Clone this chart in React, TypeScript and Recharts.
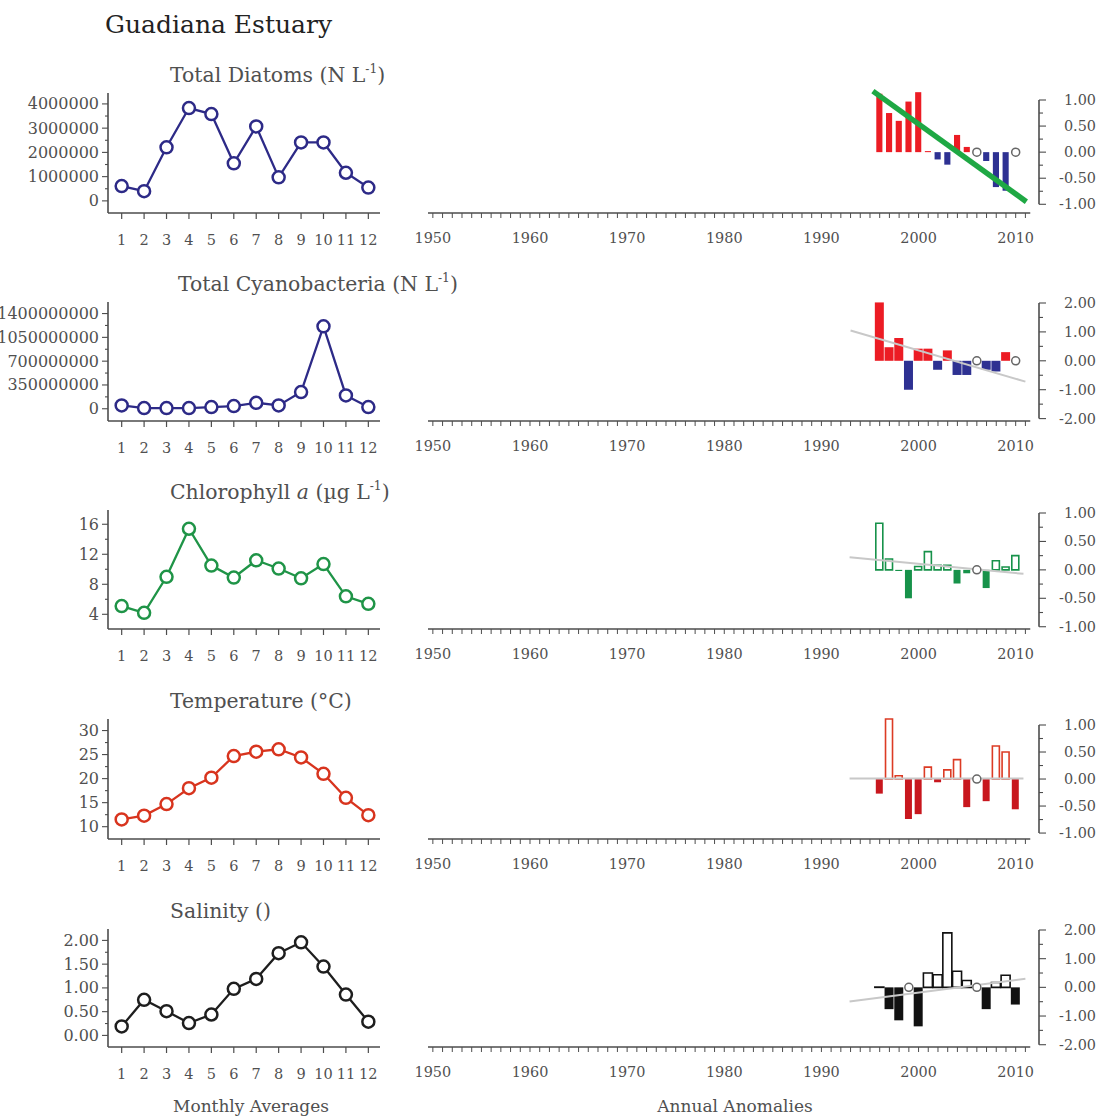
import React from "react";
import {
  LineChart,
  ComposedChart,
  Line,
  Bar,
  Cell,
  XAxis,
  YAxis,
  ReferenceLine,
} from "recharts";

// ---- data ----
const MONTHS = [1, 2, 3, 4, 5, 6, 7, 8, 9, 10, 11, 12];

const diatomMonthly = [610000, 400000, 2210000, 3830000, 3580000, 1550000, 3070000, 970000, 2410000, 2410000, 1160000, 550000];
const cyanoMonthly = [49e6, 10e6, 10e6, 10e6, 25e6, 39e6, 88e6, 49e6, 246e6, 1213e6, 196e6, 25e6];
const chlaMonthly = [5.1, 4.2, 9.0, 15.4, 10.5, 8.9, 11.2, 10.1, 8.8, 10.7, 6.4, 5.4];
const tempMonthly = [11.5, 12.3, 14.7, 18.0, 20.2, 24.7, 25.6, 26.1, 24.4, 21.0, 16.0, 12.4];
const salMonthly = [0.19, 0.75, 0.51, 0.26, 0.44, 0.98, 1.19, 1.73, 1.96, 1.45, 0.86, 0.29];

const ANOM_YEARS = [1996, 1997, 1998, 1999, 2000, 2001, 2002, 2003, 2004, 2005, 2006, 2007, 2008, 2009, 2010];
// null = no data (drawn as an open circle at zero)
const diatomAnom = [1.12, 0.75, 0.6, 0.97, 1.15, 0.02, -0.14, -0.24, 0.33, 0.1, null, -0.17, -0.67, -0.74, null];
const cyanoAnom = [2.02, 0.47, 0.79, -1.0, 0.42, 0.42, -0.31, 0.36, -0.49, -0.49, null, -0.31, -0.37, 0.3, null];
const chlaAnom = [0.82, 0.19, -0.02, -0.5, 0.06, 0.32, 0.08, 0.08, -0.24, -0.06, null, -0.32, 0.16, 0.05, 0.25];
const tempAnom = [-0.27, 1.11, 0.06, -0.74, -0.65, 0.22, -0.06, 0.17, 0.36, -0.52, null, -0.41, 0.61, 0.5, -0.56];
const salAnom = [0.01, -0.76, -1.15, null, -1.36, 0.5, 0.44, 1.9, 0.56, 0.24, null, -0.76, 0.17, 0.42, -0.6];

// trend line end points
const diatomTrend = [{ year: 1995.3, v: 1.17 }, { year: 2011.1, v: -0.95 }];
const cyanoTrend = [{ year: 1993.0, v: 1.05 }, { year: 2011.0, v: -0.72 }];
const chlaTrend = [{ year: 1992.9, v: 0.22 }, { year: 2010.8, v: -0.07 }];
const tempTrend = [{ year: 1992.9, v: 0.01 }, { year: 2010.8, v: 0.01 }];
const salTrend = [{ year: 1992.9, v: -0.49 }, { year: 2011.0, v: 0.3 }];

const YEAR_TICKS: number[] = [];
for (let y = 1950; y <= 2011; y++) YEAR_TICKS.push(y);

// ---- styling ----
const FONT = "'DejaVu Serif', serif";
const AXIS = "#4d4d4d";
const TXT = "#505050";

const stepTicks = (from: number, to: number, step: number) => {
  const out: number[] = [];
  for (let v = from; v <= to + step / 1000; v += step) out.push(Math.round(v * 1e6) / 1e6);
  return out;
};
const isMajor = (v: number, majors: number[]) => majors.some((m) => Math.abs(m - v) < 1e-6);
const fmtInt = (v: number) => String(Math.round(v));
const fmt2 = (v: number) => v.toFixed(2);

const panels = [
  {
    title: <>Total Diatoms (N L<Sup>-1</Sup>)</>,
    titleLeft: 170,
    monthly: diatomMonthly,
    color: "#2d2a87",
    yDomain: [-500000, 4450000],
    yMajor: [0, 1000000, 2000000, 3000000, 4000000],
    yMinor: stepTicks(0, 4000000, 500000),
    yFmt: fmtInt,
    anom: diatomAnom,
    trend: diatomTrend,
    trendColor: "#1fa844",
    trendWidth: 5.5,
    trendOnTop: true,
    pos: { fill: "#ec1c24", stroke: "#ec1c24", sw: 0 },
    neg: { fill: "#2e3192", stroke: "#2e3192", sw: 0 },
    rMax: 1,
    rMajor: [-1, -0.5, 0, 0.5, 1],
    rMinor: stepTicks(-1, 1, 0.25),
  },
  {
    title: <>Total Cyanobacteria (N L<Sup>-1</Sup>)</>,
    titleLeft: 178,
    monthly: cyanoMonthly,
    color: "#2d2a87",
    yDomain: [-180e6, 1570e6],
    yMajor: [0, 350e6, 700e6, 1050e6, 1400e6],
    yMinor: stepTicks(0, 1400e6, 175e6),
    yFmt: fmtInt,
    anom: cyanoAnom,
    trend: cyanoTrend,
    trendColor: "#c8c8c8",
    trendWidth: 2,
    trendOnTop: false,
    pos: { fill: "#ec1c24", stroke: "#ec1c24", sw: 0 },
    neg: { fill: "#2e3192", stroke: "#2e3192", sw: 0 },
    rMax: 2,
    rMajor: [-2, -1, 0, 1, 2],
    rMinor: stepTicks(-2, 2, 0.5),
  },
  {
    title: <>Chlorophyll <i>a</i> (µg L<Sup>-1</Sup>)</>,
    titleLeft: 170,
    monthly: chlaMonthly,
    color: "#1f9447",
    yDomain: [2.04, 17.9],
    yMajor: [4, 8, 12, 16],
    yMinor: stepTicks(4, 16, 2),
    yFmt: fmtInt,
    anom: chlaAnom,
    trend: chlaTrend,
    trendColor: "#c8c8c8",
    trendWidth: 2,
    trendOnTop: false,
    pos: { fill: "#ffffff", stroke: "#17924a", sw: 1.6 },
    neg: { fill: "#17924a", stroke: "#17924a", sw: 0 },
    rMax: 1,
    rMajor: [-1, -0.5, 0, 0.5, 1],
    rMinor: stepTicks(-1, 1, 0.25),
  },
  {
    title: <>Temperature (°C)</>,
    titleLeft: 170,
    monthly: tempMonthly,
    color: "#d8341e",
    yDomain: [7.44, 32.4],
    yMajor: [10, 15, 20, 25, 30],
    yMinor: stepTicks(10, 30, 2.5),
    yFmt: fmtInt,
    anom: tempAnom,
    trend: tempTrend,
    trendColor: "#c8c8c8",
    trendWidth: 2,
    trendOnTop: false,
    pos: { fill: "#ffffff", stroke: "#dc3b24", sw: 1.6 },
    neg: { fill: "#c8171e", stroke: "#c8171e", sw: 0 },
    rMax: 1,
    rMajor: [-1, -0.5, 0, 0.5, 1],
    rMinor: stepTicks(-1, 1, 0.25),
  },
  {
    title: <>Salinity ()</>,
    titleLeft: 170,
    monthly: salMonthly,
    color: "#1e1e1e",
    yDomain: [-0.244, 2.24],
    yMajor: [0, 0.5, 1, 1.5, 2],
    yMinor: stepTicks(0, 2, 0.25),
    yFmt: fmt2,
    anom: salAnom,
    trend: salTrend,
    trendColor: "#c8c8c8",
    trendWidth: 2,
    trendOnTop: false,
    pos: { fill: "#ffffff", stroke: "#111111", sw: 1.6 },
    neg: { fill: "#111111", stroke: "#111111", sw: 0 },
    rMax: 2,
    rMajor: [-2, -1, 0, 1, 2],
    rMinor: stepTicks(-2, 2, 0.5),
  },
];

// pixel layout of each row: top of monthly plot, x-axis line, pixel of the top anomaly tick, anomaly axis bottom value
const layout = [
  { leftTop: 93, axisY: 213, rightTop: 100, rMin: -1.167 },
  { leftTop: 302, axisY: 421, rightTop: 303, rMin: -2.083 },
  { leftTop: 510, axisY: 629, rightTop: 513, rMin: -1.04 },
  { leftTop: 719, axisY: 839, rightTop: 725, rMin: -1.11 },
  { leftTop: 929, axisY: 1047, rightTop: 930, rMin: -2.08 },
];
const HEADROOM = 32; // extra plot height above the top anomaly tick

function Sup({ children }: { children: React.ReactNode }) {
  return (
    <span style={{ fontSize: "0.6em", position: "relative", top: "-0.7em" }}>{children}</span>
  );
}

function MonthTick(props: any) {
  const { x, y, payload } = props;
  return (
    <g>
      <line x1={x} y1={y} x2={x} y2={y + 6} stroke={AXIS} strokeWidth={1.2} />
      <text x={x} y={y + 27} textAnchor="middle" dominantBaseline="central" fontFamily={FONT} fontSize={14.5} fill={TXT}>
        {payload.value}
      </text>
    </g>
  );
}

function YearTick(props: any) {
  const { x, y, payload } = props;
  const label = payload.value % 10 === 0;
  return (
    <g>
      <line x1={x} y1={y} x2={x} y2={y + 5} stroke={AXIS} strokeWidth={1} />
      {label && (
        <text x={x} y={y + 25} textAnchor="middle" dominantBaseline="central" fontFamily={FONT} fontSize={14.4} fill={TXT}>
          {payload.value}
        </text>
      )}
    </g>
  );
}

function MonthlyChart({ p, lay }: { p: any; lay: any }) {
  const data = MONTHS.map((m, i) => ({ m, v: p.monthly[i] }));
  const ph = lay.axisY - lay.leftTop;
  const leftTick = (t: any) => {
    const major = isMajor(t.payload.value, p.yMajor);
    return (
      <g>
        <line x1={t.x} y1={t.y} x2={t.x - (major ? 6 : 3)} y2={t.y} stroke={AXIS} strokeWidth={1.1} />
        {major && (
          <text x={t.x - 9} y={t.y} textAnchor="end" dominantBaseline="central" fontFamily={FONT} fontSize={16} fill={TXT}>
            {p.yFmt(t.payload.value)}
          </text>
        )}
      </g>
    );
  };
  return (
    <div style={{ position: "absolute", left: 0, top: lay.leftTop - 5 }}>
      <LineChart width={390} height={ph + 45} data={data} margin={{ top: 5, right: 10, bottom: 0, left: 0 }}>
        <XAxis
          type="number"
          dataKey="m"
          domain={[0.39, 12.52]}
          ticks={MONTHS}
          interval={0}
          tickSize={0}
          tickMargin={0}
          tickLine={false}
          axisLine={{ stroke: AXIS, strokeWidth: 1.6 }}
          height={40}
          tick={MonthTick}
          allowDataOverflow
        />
        <YAxis
          type="number"
          domain={p.yDomain}
          ticks={p.yMinor}
          interval={0}
          tickSize={0}
          tickMargin={0}
          tickLine={false}
          width={108}
          axisLine={{ stroke: AXIS, strokeWidth: 1.6 }}
          tick={leftTick}
          allowDataOverflow
        />
        <Line
          dataKey="v"
          type="linear"
          stroke={p.color}
          strokeWidth={2.3}
          dot={{ r: 6, fill: "#fff", stroke: p.color, strokeWidth: 2.5 }}
          isAnimationActive={false}
        />
      </LineChart>
    </div>
  );
}

function AnomalyChart({ p, lay }: { p: any; lay: any }) {
  const all = ANOM_YEARS.map((year, i) => ({ year, v: p.anom[i] }));
  const bars = all.filter((d) => d.v !== null);
  const gaps = all.filter((d) => d.v === null).map((d) => ({ year: d.year, v: 0 }));
  const unit = (lay.axisY - lay.rightTop) / (p.rMax - lay.rMin);
  const dMax = p.rMax + HEADROOM / unit;
  const ph = lay.axisY - lay.rightTop + HEADROOM;
  const rightTick = (t: any) => {
    const major = isMajor(t.payload.value, p.rMajor);
    return (
      <g>
        <line x1={t.x} y1={t.y} x2={t.x + (major ? 7 : 4)} y2={t.y} stroke={AXIS} strokeWidth={1.1} />
        {major && (
          <text x={t.x + 57} y={t.y} textAnchor="end" dominantBaseline="central" fontFamily={FONT} fontSize={14.4} fill={TXT}>
            {fmt2(t.payload.value)}
          </text>
        )}
      </g>
    );
  };
  const trendLine = (
    <Line
      data={p.trend}
      dataKey="v"
      type="linear"
      stroke={p.trendColor}
      strokeWidth={p.trendWidth}
      dot={false}
      isAnimationActive={false}
    />
  );
  return (
    <div style={{ position: "absolute", left: 400, top: lay.rightTop - HEADROOM }}>
      <ComposedChart width={712} height={ph + 40} data={bars} margin={{ top: 0, right: 0, bottom: 0, left: 28 }}>
        <XAxis
          type="number"
          dataKey="year"
          domain={[1949.5, 2012.4]}
          ticks={YEAR_TICKS}
          interval={0}
          tickSize={0}
          tickMargin={0}
          tickLine={false}
          axisLine={false}
          height={40}
          tick={YearTick}
          allowDataOverflow
        />
        <YAxis
          orientation="right"
          type="number"
          dataKey="v"
          domain={[lay.rMin, dMax]}
          ticks={p.rMinor}
          interval={0}
          tickSize={0}
          tickMargin={0}
          tickLine={false}
          axisLine={false}
          width={73}
          tick={rightTick}
          allowDataOverflow
        />
        <ReferenceLine
          segment={[{ x: 1949.5, y: lay.rMin }, { x: 2011.5, y: lay.rMin }]}
          stroke={AXIS}
          strokeWidth={1.6}
          ifOverflow="visible"
        />
        <ReferenceLine
          segment={[{ x: 2012.4, y: -p.rMax }, { x: 2012.4, y: p.rMax }]}
          stroke={AXIS}
          strokeWidth={1.6}
          ifOverflow="visible"
        />
        {!p.trendOnTop && trendLine}
        <Bar dataKey="v" barSize={9} isAnimationActive={false}>
          {bars.map((d, i) => {
            const s = d.v >= 0 ? p.pos : p.neg;
            return <Cell key={i} fill={s.fill} stroke={s.stroke} strokeWidth={s.sw} />;
          })}
        </Bar>
        {p.trendOnTop && trendLine}
        <Line
          data={gaps}
          dataKey="v"
          stroke="none"
          dot={{ r: 4, fill: "#fff", stroke: "#666", strokeWidth: 1.5 }}
          isAnimationActive={false}
        />
      </ComposedChart>
    </div>
  );
}

export default function App() {
  return (
    <div
      style={{
        position: "absolute",
        left: 0,
        top: 0,
        width: 1112,
        height: 1117,
        background: "#fff",
        fontFamily: FONT,
        overflow: "hidden",
      }}
    >
      <div style={{ position: "absolute", left: 105, top: 12, fontSize: 25, lineHeight: 1, color: "#222", whiteSpace: "nowrap" }}>
        Guadiana Estuary
      </div>
      {panels.map((p, i) => (
        <React.Fragment key={i}>
          <MonthlyChart p={p} lay={layout[i]} />
          <AnomalyChart p={p} lay={layout[i]} />
          <div
            style={{
              position: "absolute",
              left: p.titleLeft,
              top: layout[i].leftTop - 28,
              fontSize: 20.4,
              lineHeight: 1,
              color: TXT,
              whiteSpace: "nowrap",
            }}
          >
            {p.title}
          </div>
        </React.Fragment>
      ))}
      <div style={{ position: "absolute", left: 251, top: 1098, transform: "translateX(-50%)", fontSize: 17, lineHeight: 1, color: TXT, whiteSpace: "nowrap" }}>
        Monthly Averages
      </div>
      <div style={{ position: "absolute", left: 735, top: 1098, transform: "translateX(-50%)", fontSize: 17, lineHeight: 1, color: TXT, whiteSpace: "nowrap" }}>
        Annual Anomalies
      </div>
    </div>
  );
}
